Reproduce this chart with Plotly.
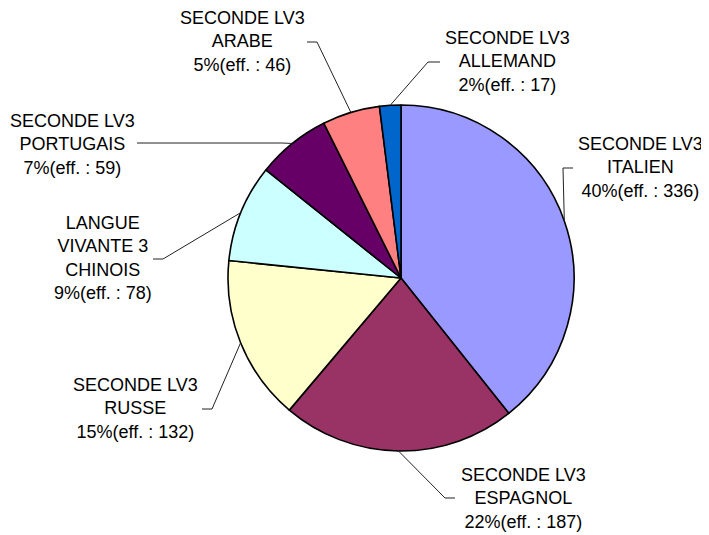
import math
import plotly.graph_objects as go

# data, clockwise from 12 o'clock
labels = [
    "SECONDE LV3<br>ITALIEN",
    "SECONDE LV3<br>ESPAGNOL",
    "SECONDE LV3<br>RUSSE",
    "LANGUE<br>VIVANTE 3<br>CHINOIS",
    "SECONDE LV3<br>PORTUGAIS",
    "SECONDE LV3<br>ARABE",
    "SECONDE LV3<br>ALLEMAND",
]
effectifs = [336, 187, 132, 78, 59, 46, 17]
pourcentages = [40, 22, 15, 9, 7, 5, 2]
colors = ["#9999FF", "#993366", "#FFFFCC", "#CCFFFF", "#660066", "#FF8080", "#0066CC"]

# the page body keeps its default 8px margin, so the figure is made that much
# smaller and every position below (window pixels) is shifted back by it
PAGE_MARGIN = 8
W, H = 709 - PAGE_MARGIN, 535 - PAGE_MARGIN
CX, CY, R = 401, 278, 173

# label placement (window pixels): label centre, elbow, end of short horizontal tick
label_pos = [(640, 167), (523, 498), (135, 408), (103, 258), (72, 144), (242, 41), (507, 61)]
elbows = [(563, 168), (445, 498), (212, 409), (163, 259), (282, 143), (317, 42), (428, 62)]
ticks = [(573, 168), (455, 498), (202, 409), (153, 259), (137, 143), (307, 42), (440, 62)]


def px(x, y):
    return (x - PAGE_MARGIN) / W, 1 - (y - PAGE_MARGIN) / H


fig = go.Figure()
x0, y0 = px(CX - R, CY + R)
x1, y1 = px(CX + R, CY - R)
fig.add_trace(
    go.Pie(
        labels=[l.replace("<br>", " ") for l in labels],
        values=effectifs,
        sort=False,
        direction="clockwise",
        rotation=0,
        marker=dict(colors=colors, line=dict(color="black", width=1.6)),
        textinfo="none",
        hoverinfo="label+value+percent",
        showlegend=False,
        domain=dict(x=[x0, x1], y=[y0, y1]),
    )
)

total = sum(effectifs)
cum = 0
shapes = []
annotations = []
for i, v in enumerate(effectifs):
    mid = (cum + v / 2) / total * 2 * math.pi
    cum += v
    ax, ay = CX + R * math.sin(mid), CY - R * math.cos(mid)
    p0, p1, p2 = px(ax, ay), px(*elbows[i]), px(*ticks[i])
    shapes.append(
        dict(
            type="path",
            xref="paper",
            yref="paper",
            path=f"M {p0[0]},{p0[1]} L {p1[0]},{p1[1]} L {p2[0]},{p2[1]}",
            line=dict(color="#222222", width=1),
        )
    )
    lx, ly = px(*label_pos[i])
    annotations.append(
        dict(
            x=lx,
            y=ly,
            xref="paper",
            yref="paper",
            xanchor="center",
            yanchor="middle",
            align="center",
            showarrow=False,
            text=f"{labels[i]}<br>{pourcentages[i]}%(eff. : {v})",
            font=dict(family="Liberation Sans, Arial, sans-serif", size=18, color="black"),
        )
    )

fig.update_layout(
    width=W,
    height=H,
    margin=dict(l=0, r=0, t=0, b=0),
    paper_bgcolor="white",
    plot_bgcolor="white",
    shapes=shapes,
    annotations=annotations,
)

fig.write_html("out.html")
